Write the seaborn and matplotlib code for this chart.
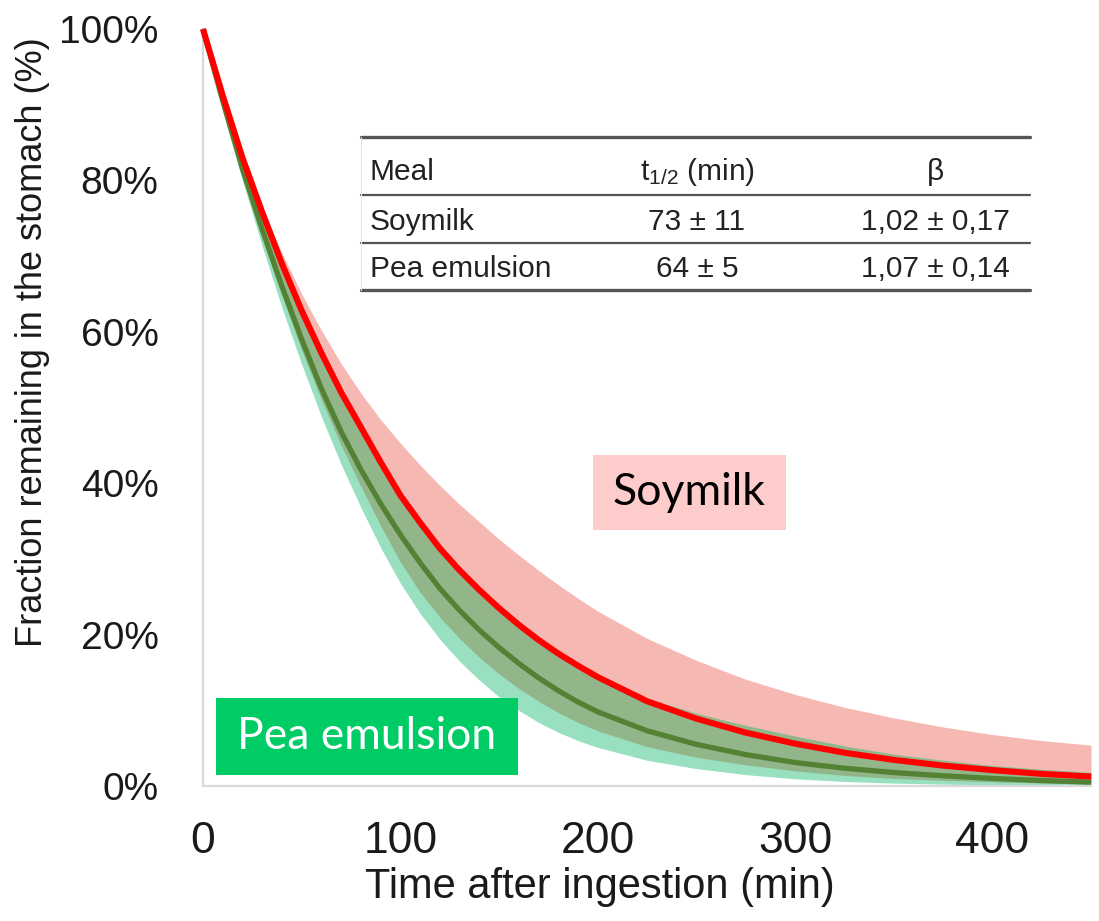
import numpy as np
import pandas as pd
import matplotlib
matplotlib.use("Agg")
import matplotlib.pyplot as plt
import seaborn as sns
from matplotlib.patches import Rectangle
from matplotlib.lines import Line2D
from matplotlib.ticker import PercentFormatter

# ---------------- data ----------------
time_min = [0, 10, 20, 30, 40, 50, 60, 70, 80, 90, 100, 110, 120, 130, 140,
            150, 160, 170, 180, 190, 200, 225, 250, 275, 300, 325, 350, 375,
            400, 425, 450]

soymilk_mean = [100, 91.2, 83.0, 75.8, 69.0, 62.8, 57.2, 52.0, 47.4, 42.8, 38.4,
                34.8, 31.4, 28.5, 25.9, 23.5, 21.3, 19.3, 17.5, 15.9, 14.4,
                11.2, 8.9, 7.05, 5.6, 4.4, 3.45, 2.7, 2.1, 1.6, 1.25]
soymilk_upper = [100, 91.5, 83.5, 76.5, 70.4, 65.0, 60.2, 55.8, 51.9, 48.4, 45.3,
                 42.4, 39.7, 37.2, 34.9, 32.6, 30.5, 28.5, 26.6, 24.8, 23.1,
                 19.5, 16.6, 14.1, 12.1, 10.4, 9.0, 7.8, 6.8, 6.0, 5.4]
soymilk_lower = [100, 90.0, 80.8, 72.5, 64.8, 57.6, 51.0, 45.0, 39.6, 34.4, 29.6,
                 25.6, 22.3, 19.5, 17.0, 14.8, 12.9, 11.2, 9.7, 8.4, 7.3,
                 5.2, 3.8, 2.8, 2.0, 1.4, 1.0, 0.75, 0.55, 0.4, 0.3]

pea_mean = [100, 90.5, 81.5, 73.5, 66.0, 59.0, 52.5, 46.8, 41.8, 37.3, 33.2,
            29.5, 26.1, 23.2, 20.6, 18.3, 16.2, 14.3, 12.6, 11.1, 9.8,
            7.3, 5.5, 4.15, 3.1, 2.35, 1.78, 1.35, 1.0, 0.72, 0.5]
pea_upper = [100, 91.0, 82.7, 75.3, 68.5, 62.2, 56.5, 51.3, 46.6, 42.2, 38.0,
             34.3, 31.0, 28.0, 25.4, 23.0, 20.9, 19.0, 17.3, 15.8, 14.4,
             11.6, 9.6, 8.0, 6.6, 5.3, 4.2, 3.4, 2.7, 2.2, 1.8]
pea_lower = [100, 89.5, 80.0, 71.3, 63.2, 55.7, 48.8, 42.5, 36.8, 31.5, 26.8,
             22.8, 19.4, 16.5, 14.0, 11.8, 10.0, 8.4, 7.1, 6.0, 5.1,
             3.4, 2.3, 1.5, 0.95, 0.6, 0.38, 0.24, 0.15, 0.1, 0.06]

y_ticks = [0, 20, 40, 60, 80, 100]
x_ticks = [0, 100, 200, 300, 400]

table_header = ["Meal", "t$_{\\mathrm{1/2}}$ (min)", "\u03b2"]
table_rows = [["Soymilk", "73 \u00b1 11", "1,02 \u00b1 0,17"],
              ["Pea emulsion", "64 \u00b1 5", "1,07 \u00b1 0,14"]]

# ---------------- style ----------------
sns.set_theme(style="white")
plt.rcParams["font.family"] = ["Liberation Sans", "DejaVu Sans"]
plt.rcParams["mathtext.fontset"] = "custom"
plt.rcParams["mathtext.rm"] = "Liberation Sans"
plt.rcParams["mathtext.it"] = "Liberation Sans:italic"
plt.rcParams["mathtext.bf"] = "Liberation Sans:bold"

RED = "#FF0000"
DKGREEN = "#548235"
PINK_BAND = "#F6B8B2"
MINT_BAND = "#98E0C0"
OVERLAP = "#93B58A"

fig = plt.figure(figsize=(10.99, 9.21), dpi=100)
ax = fig.add_axes([203 / 1099, 1 - 786 / 921, 888 / 1099, 757 / 921])

t = np.array(time_min, dtype=float)
s_lo = np.array(soymilk_lower); s_hi = np.array(soymilk_upper)
p_lo = np.array(pea_lower); p_hi = np.array(pea_upper)

ax.fill_between(t, s_lo, s_hi, color=PINK_BAND, linewidth=0, zorder=1)
ax.fill_between(t, p_lo, p_hi, color=MINT_BAND, linewidth=0, zorder=1.1)
ov_lo = np.maximum(s_lo, p_lo)
ov_hi = np.minimum(s_hi, p_hi)
ax.fill_between(t, ov_lo, ov_hi, where=ov_hi > ov_lo, color=OVERLAP,
                linewidth=0, zorder=1.2)

df = pd.concat([
    pd.DataFrame({"time": time_min, "fraction": pea_mean, "meal": "Pea emulsion"}),
    pd.DataFrame({"time": time_min, "fraction": soymilk_mean, "meal": "Soymilk"}),
])
sns.lineplot(data=df[df.meal == "Pea emulsion"], x="time", y="fraction",
             color=DKGREEN, linewidth=3.8, ax=ax, legend=False, zorder=3)
sns.lineplot(data=df[df.meal == "Soymilk"], x="time", y="fraction",
             color=RED, linewidth=4.4, ax=ax, legend=False, zorder=4)
for ln in ax.lines:
    ln.set_clip_on(False)
    ln.set_solid_capstyle("butt")
    ln.set_solid_joinstyle("round")

ax.set_xlim(0, 450)
ax.set_ylim(0, 100)
ax.set_xticks(x_ticks)
ax.set_yticks(y_ticks)
ax.yaxis.set_major_formatter(PercentFormatter(xmax=100, decimals=0))
ax.tick_params(axis="y", length=0, pad=32, labelsize=28, labelcolor="#1a1a1a")
ax.tick_params(axis="x", length=0, pad=25, labelsize=32, labelcolor="#1a1a1a")

for side in ["top", "right"]:
    ax.spines[side].set_visible(False)
for side in ["left", "bottom"]:
    ax.spines[side].set_color("#D9D9D9")
    ax.spines[side].set_linewidth(1.6)

ax.set_xlabel("Time after ingestion (min)", fontsize=30, color="#1a1a1a")
ax.set_ylabel("Fraction remaining in the stomach (%)", fontsize=26, color="#1a1a1a")
ax.xaxis.set_label_coords(0.447, -0.107)
ax.yaxis.set_label_coords(-0.172, 0.587)

# ---------------- label boxes ----------------
ax.add_patch(Rectangle((0.4397, 0.338), 0.2163, 0.099, transform=ax.transAxes,
                       facecolor="#FFCCCC", edgecolor="none", zorder=5))
ax.text(0.547, 0.388, "Soymilk", transform=ax.transAxes, ha="center",
        va="center", fontsize=32, family=["Lato", "DejaVu Sans"],
        color="black", zorder=6)
ax.add_patch(Rectangle((0.0147, 0.0145), 0.3403, 0.1016, transform=ax.transAxes,
                       facecolor="#00CC66", edgecolor="none", zorder=5))
ax.text(0.1847, 0.0654, "Pea emulsion", transform=ax.transAxes, ha="center",
        va="center", fontsize=32, family=["Lato", "DejaVu Sans"],
        color="white", zorder=6)

# ---------------- table ----------------
def fx(px):
    return px / 1099
def fy(py):
    return 1 - py / 921

x0, x1 = fx(361), fx(1030)
for py, lw in [(137, 2.4), (195, 1.6), (243, 1.6), (290, 2.4)]:
    fig.add_artist(Line2D([x0, x1], [fy(py), fy(py)], color="#555555",
                          linewidth=lw, transform=fig.transFigure))
fig.add_artist(Line2D([x0, x0], [fy(137), fy(290)], color="#E6E6E6",
                      linewidth=0.8, transform=fig.transFigure))

col_x = [fx(370), fx(697), fx(935)]
col_ha = ["left", "center", "center"]
base_y = [fy(180), fy(230), fy(277)]
rows = [table_header] + table_rows
for r, row in enumerate(rows):
    for c, txt in enumerate(row):
        fig.text(col_x[c], base_y[r], txt, ha=col_ha[c], va="baseline",
                 fontsize=21.5, color="#222222")

fig.savefig("out.png", dpi=100)
